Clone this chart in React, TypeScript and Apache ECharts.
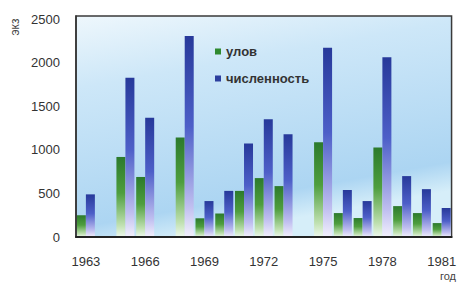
import React, { useEffect, useRef } from "react";
import * as echarts from "echarts";

const years = ["1963","1964","1965","1966","1967","1968","1969","1970","1971","1972","1973","1974","1975","1976","1977","1978","1979","1980","1981"];
const catch_ = [250, null, 920, 690, null, 1145, 215, 270, 530, 677, 585, null, 1090, 275, 218, 1030, 355, 275, 160];
const population = [490, null, 1830, 1370, null, 2310, 413, 530, 1075, 1353, 1181, null, 2175, 540, 413, 2065, 700, 550, 333];
const seriesNames = ["улов", "численность"];
const yAxisName = "экз";
const xAxisName = "год";

export default function App() {
  const ref = useRef<HTMLDivElement>(null);
  useEffect(() => {
    const chart = echarts.init(ref.current!, null, { renderer: "svg" });
    const font = "Liberation Sans, Arial, sans-serif";
    chart.setOption({
      animation: false,
      backgroundColor: "#ffffff",
      grid: {
        left: 76, right: 2, top: 16, bottom: 47,
        show: true,
        borderColor: "#3a3a3a",
        borderWidth: 1.5,
        backgroundColor: new echarts.graphic.LinearGradient(0, 0, 0.3, 1, [
          { offset: 0, color: "#eef7fc" },
          { offset: 0.3, color: "#cde7f8" },
          { offset: 0.88, color: "#acd5f2" },
          { offset: 1, color: "#d6eef9" },
        ]),
      },
      legend: {
        orient: "vertical",
        left: 210,
        top: 40,
        itemWidth: 6,
        itemHeight: 6,
        itemGap: 14,
        icon: "rect",
        textStyle: { fontSize: 13, fontWeight: "bold", color: "#333", fontFamily: font },
        data: [
          { name: seriesNames[0], itemStyle: { color: "#2f8a2f" } },
          { name: seriesNames[1], itemStyle: { color: "#2c3f9e" } },
        ],
      },
      xAxis: {
        type: "category",
        data: years,
        z: 5,
        axisLine: { lineStyle: { color: "#222", width: 2 } },
        axisTick: { show: false },
        axisLabel: { interval: 2, margin: 18, fontSize: 13, color: "#333", fontFamily: font },
      },
      yAxis: {
        type: "value",
        min: 0,
        max: 2540,
        interval: 500,
        z: 5,
        axisLine: { show: true, lineStyle: { color: "#333", width: 1.5 } },
        axisTick: { show: false },
        splitLine: { show: false },
        axisLabel: {
          margin: 16, fontSize: 13, color: "#333", fontFamily: font,
          formatter: (v: number) => (v % 500 === 0 ? String(v) : ""),
        },
      },
      graphic: [
        {
          type: "text", x: 15, y: 27, rotation: Math.PI / 2,
          style: { text: yAxisName, fontSize: 12, fill: "#444", align: "center", verticalAlign: "middle", fontFamily: font },
        },
        {
          type: "text", x: 448, y: 270,
          style: { text: xAxisName, fontSize: 11, fill: "#444", align: "center", verticalAlign: "top", fontFamily: font },
        },
      ],
      series: [
        {
          name: seriesNames[0],
          type: "bar",
          data: catch_,
          barWidth: 9,
          barGap: "0%",
          itemStyle: {
            color: new echarts.graphic.LinearGradient(0, 0, 0, 1, [
              { offset: 0, color: "#2c7a2c" },
              { offset: 0.45, color: "#4e9e3e" },
              { offset: 0.85, color: "#bfe0b0" },
              { offset: 1, color: "#eef8ee" },
            ]),
          },
        },
        {
          name: seriesNames[1],
          type: "bar",
          data: population,
          barWidth: 9,
          barGap: "0%",
          itemStyle: {
            color: new echarts.graphic.LinearGradient(0, 0, 0, 1, [
              { offset: 0, color: "#27399a" },
              { offset: 0.45, color: "#4d5fc8" },
              { offset: 0.85, color: "#c0bff0" },
              { offset: 1, color: "#f2f0fc" },
            ]),
          },
        },
      ],
    });
    return () => chart.dispose();
  }, []);
  return (
    <div
      ref={ref}
      style={{ position: "absolute", left: 0, top: 0, width: 459, height: 284 }}
    />
  );
}
